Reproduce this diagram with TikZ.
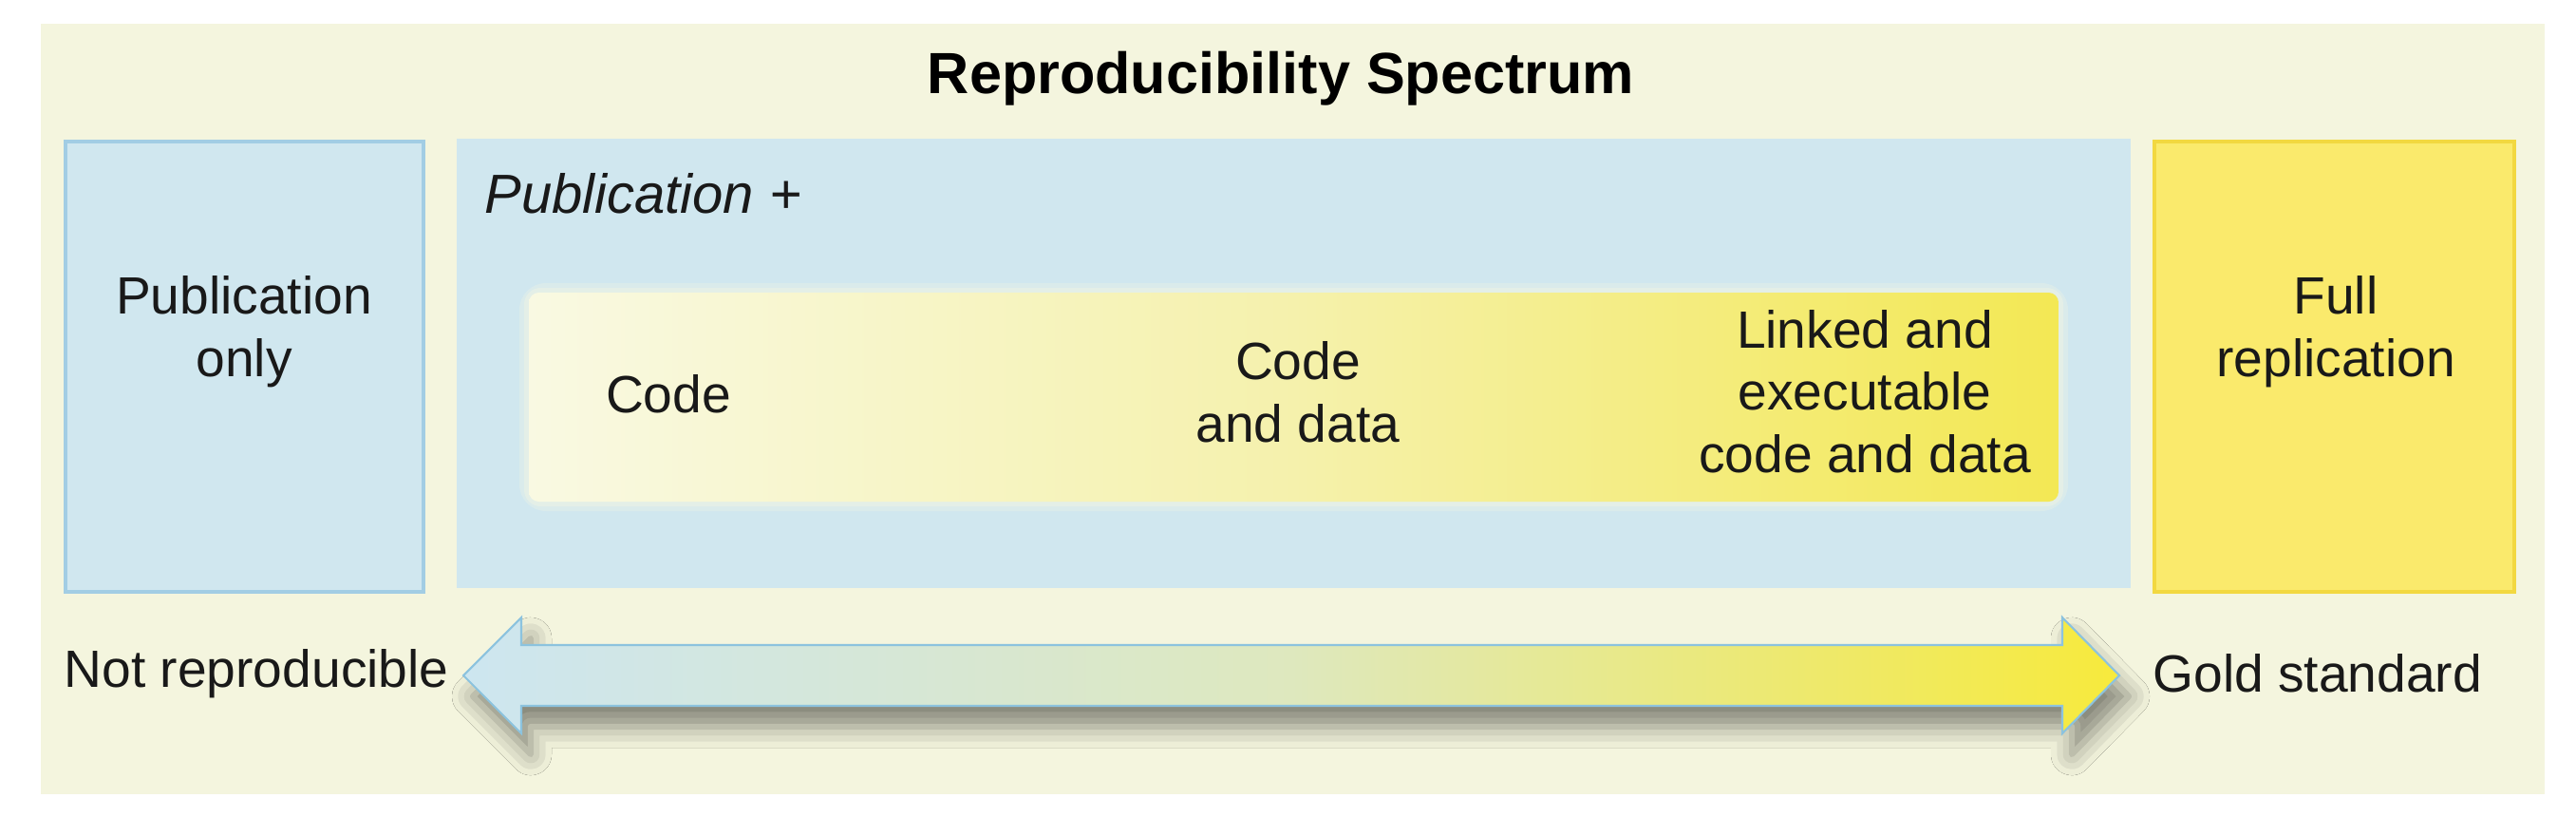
\documentclass[tikz,border=0pt]{standalone}
\usepackage{fontspec}
\setmainfont{Liberation Sans}
\usepackage{xcolor}
\usepackage{tikz}
\usetikzlibrary{calc,shadows.blur}

\definecolor{panelbg}{RGB}{244,245,222}
\definecolor{boxblue}{RGB}{208,231,239}
\definecolor{edgeblue}{RGB}{162,205,228}
\definecolor{boxyellow}{RGB}{250,234,108}
\definecolor{edgeyellow}{RGB}{242,216,64}
\definecolor{bandlight}{RGB}{249,249,226}
\definecolor{bandmid}{RGB}{245,241,172}
\definecolor{bandyellow}{RGB}{243,232,84}
\definecolor{arrowblue}{RGB}{205,230,240}
\definecolor{arrowmid}{RGB}{222,232,190}
\definecolor{arrowyellow}{RGB}{247,234,60}
\definecolor{arrowedge}{RGB}{140,195,222}

\pgfdeclarehorizontalshading{bandshade}{100bp}{color(0bp)=(bandlight); color(25bp)=(bandlight); color(50bp)=(bandmid); color(75bp)=(bandyellow); color(100bp)=(bandyellow)}

\tikzset{
    lbl/.style={font=\fontsize{15.7}{18.7}\selectfont, align=center, text=black!90},
    bluebox/.style={fill=boxblue, draw=edgeblue, line width=1.1pt},
    goldbox/.style={fill=boxyellow, draw=edgeyellow, line width=1.1pt},
    spectrum/.style={draw=arrowedge, line width=0.6pt, left color=arrowblue, right color=arrowyellow, middle color=arrowmid,
        blur shadow={shadow xshift=0.1cm, shadow yshift=-0.22cm, shadow blur radius=0.22cm, shadow opacity=45}}
}

\begin{document}
\begin{tikzpicture}
    \useasboundingbox (0,0) rectangle (27.13,8.59);
    \fill[white] (0,0) rectangle (27.13,8.59);

    % Cream panel behind everything
    \fill[panelbg] (0.43,0.23) rectangle (26.80,8.34);
    \node[font=\fontsize{17.4}{20}\selectfont\bfseries] (title) at (13.49,7.76) {Reproducibility Spectrum};

    % The three columns
    \draw[bluebox] (0.69,2.36) rectangle (4.46,7.10);
    \fill[boxblue] (4.81,2.40) rectangle (22.44,7.13);
    \draw[goldbox] (22.69,2.36) rectangle (26.48,7.10);

    \node[lbl] (pubonly) at (2.57,5.10) {Publication\\only};
    \node[lbl, font=\fontsize{16.5}{19}\selectfont\itshape, anchor=west] (pubplus) at (4.98,6.55) {Publication +};
    \node[lbl] (fullrep) at (24.60,5.10) {Full\\replication};

    % Graded band inside Publication +, soft edge first
    \fill[bandlight, opacity=0.25, rounded corners=8pt] (5.47,3.21) rectangle (21.78,5.61);
    \fill[bandlight, opacity=0.35, rounded corners=5pt] (5.52,3.26) rectangle (21.73,5.56);
    \shade[shading=bandshade, rounded corners=3pt] (5.57,3.31) rectangle (21.68,5.51);

    \node[lbl] (code) at (7.04,4.44) {Code};
    \node[lbl] (codedata) at (13.67,4.46) {Code\\and data};
    \node[lbl] (linked) at (19.64,4.47) {Linked and\\executable\\code and data};

    % Double arrow across the bottom
    \coordinate (arrL) at (4.88,1.48);
    \coordinate (arrR) at (22.32,1.48);
    \path[spectrum] (arrL) -- ($(arrL)+(0.61,0.61)$) -- ($(arrL)+(0.61,0.32)$)
        -- ($(arrR)+(-0.60,0.32)$) -- ($(arrR)+(-0.60,0.61)$) -- (arrR)
        -- ($(arrR)+(-0.60,-0.61)$) -- ($(arrR)+(-0.60,-0.32)$)
        -- ($(arrL)+(0.61,-0.32)$) -- ($(arrL)+(0.61,-0.61)$) -- cycle;

    \node[lbl, anchor=east] (notrep) at (4.85,1.50) {Not reproducible};
    \node[lbl, anchor=west] (gold) at (22.55,1.50) {Gold standard};

\end{tikzpicture}
\end{document}
